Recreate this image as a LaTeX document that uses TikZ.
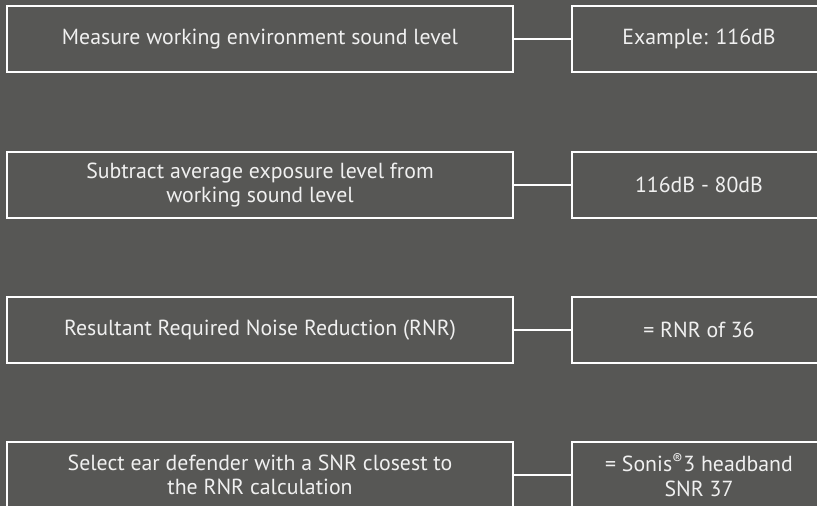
\documentclass[tikz,border=0pt]{standalone}
\usepackage{fontspec}
\setmainfont{PT Sans}
\definecolor{bg}{HTML}{575755}
\definecolor{fg}{HTML}{F0F0F0}
\begin{document}
\begin{tikzpicture}[x=1pt,y=-1pt,
  box/.style={draw=white, line width=2.2pt, text=fg, align=center, inner sep=0pt,
    minimum height=66pt, font=\fontsize{21.8}{24.5}\selectfont},
  lbox/.style={box, minimum width=506pt},
  rbox/.style={box, minimum width=254pt},
  link/.style={draw=white, line width=2.2pt}]
\fill[bg] (0,0) rectangle (817,506);
\useasboundingbox (0,0) rectangle (817,506);
\clip (0,0) rectangle (817,506);
\node[lbox] (l1) at (260,39) {Measure working environment sound level};
\node[rbox] (r1) at (699,39) {Example: 116dB};
\node[lbox] (l2) at (260,185) {Subtract average exposure level from\\working sound level};
\node[rbox] (r2) at (699,185) {116dB - 80dB};
\node[lbox] (l3) at (260,330) {Resultant Required Noise Reduction (RNR)};
\node[rbox] (r3) at (699,330) {= RNR of 36};
\node[lbox] (l4) at (260,475) {Select ear defender with a SNR closest to\\the RNR calculation};
\node[rbox] (r4) at (699,475) {= Sonis\textsuperscript{®}3 headband\\SNR 37};
\draw[link] (l1.east) -- (r1.west);
\draw[link] (l2.east) -- (r2.west);
\draw[link] (l3.east) -- (r3.west);
\draw[link] (l4.east) -- (r4.west);
\end{tikzpicture}
\end{document}
